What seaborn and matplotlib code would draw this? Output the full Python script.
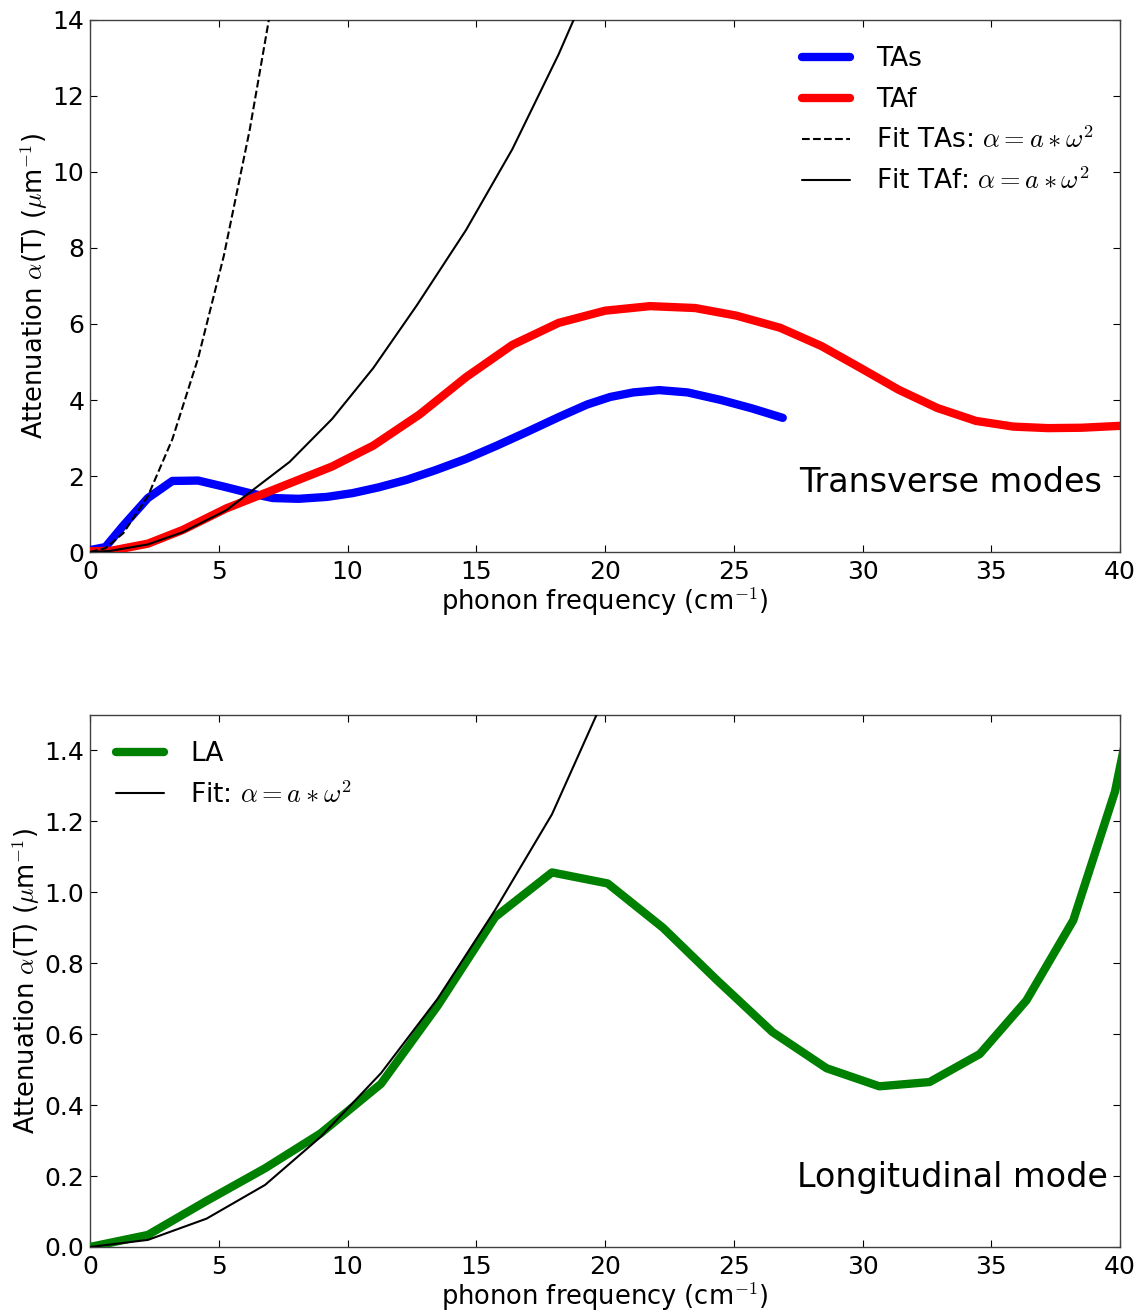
import matplotlib
matplotlib.use("Agg")
import matplotlib.pyplot as plt
import seaborn as sns

# ── Transverse modes ─────────────────────────────────────────────────────────
tas_freq = [0, 0.6, 1.3, 2.25, 3.2, 4.2, 5.2, 6.2, 7.1, 8.1, 9.2, 10.2, 11.2, 12.3,
            13.4, 14.6, 15.8, 17.0, 18.2, 19.3, 20.2, 21.1, 22.1, 23.2, 24.5, 25.7, 26.9]
tas_att = [0.05, 0.13, 0.7, 1.42, 1.87, 1.88, 1.72, 1.55, 1.42, 1.40, 1.45, 1.55, 1.7, 1.9,
           2.15, 2.45, 2.8, 3.17, 3.55, 3.88, 4.08, 4.2, 4.26, 4.2, 4.0, 3.78, 3.53]

taf_freq = [0, 0.8, 2.25, 3.6, 5.3, 7.1, 9.4, 11.0, 12.8, 14.6, 16.4, 18.2, 20.0, 21.75,
            23.5, 25.1, 26.8, 28.4, 29.9, 31.4, 32.9, 34.4, 35.85, 37.2, 38.5, 40.0]
taf_att = [0.02, 0.03, 0.22, 0.58, 1.15, 1.63, 2.25, 2.8, 3.62, 4.6, 5.45, 6.03, 6.35, 6.47,
           6.42, 6.22, 5.9, 5.42, 4.85, 4.27, 3.79, 3.45, 3.3, 3.26, 3.27, 3.32]

fit_tas_freq = [0, 0.6, 1.3, 2.25, 3.2, 4.2, 5.2, 6.2, 7.1]
fit_tas_att = [0, 0.1, 0.5, 1.47, 2.97, 5.1, 7.8, 11.1, 14.6]

fit_taf_freq = [0, 0.8, 2.25, 3.6, 5.3, 7.75, 9.4, 11.0, 12.7, 14.6, 16.4, 18.2, 20.0]
fit_taf_att = [0, 0.03, 0.2, 0.52, 1.1, 2.37, 3.5, 4.84, 6.5, 8.47, 10.6, 13.1, 15.9]

# ── Longitudinal mode ────────────────────────────────────────────────────────
la_freq = [0, 2.25, 4.53, 6.8, 8.95, 11.3, 13.5, 15.73, 17.94, 20.1, 22.25, 24.35, 26.5,
           28.6, 30.65, 32.6, 34.55, 36.36, 38.18, 39.8, 41.4]
la_att = [0.0, 0.034, 0.13, 0.222, 0.32, 0.46, 0.68, 0.93, 1.056, 1.025, 0.90, 0.752, 0.606,
          0.504, 0.453, 0.465, 0.544, 0.695, 0.921, 1.284, 1.85]

fit_la_freq = [0, 2.25, 4.53, 6.8, 8.95, 11.3, 13.5, 15.73, 17.94, 20.1, 22.25]
fit_la_att = [0, 0.02, 0.08, 0.175, 0.31, 0.49, 0.70, 0.95, 1.22, 1.57, 1.93]

sns.set_style("ticks")
plt.rcParams.update({
    "font.family": ["DejaVu Sans"],
    "mathtext.fontset": "cm",
    "text.color": "black",
    "axes.labelcolor": "black",
    "xtick.color": "black",
    "ytick.color": "black",
    "xtick.direction": "in",
    "ytick.direction": "in",
    "xtick.top": True,
    "ytick.right": True,
    "xtick.major.size": 5,
    "ytick.major.size": 5,
    "xtick.labelsize": 18,
    "ytick.labelsize": 18,
    "axes.labelsize": 18.5,
    "axes.edgecolor": "0.25",
    "axes.linewidth": 1.0,
})

fig = plt.figure(figsize=(11.43, 13.14), dpi=100)
ax1 = fig.add_axes([0.0787, 0.5799, 0.9013, 0.4049])
ax2 = fig.add_axes([0.0787, 0.0510, 0.9013, 0.4049])

ylabel = r"Attenuation $\alpha$(T) ($\mu$m$^{-1}$)"
xlabel = r"phonon frequency (cm$^{-1}$)"
fit_lbl = r"$\alpha = a*\omega^2$"

# Top panel — transverse modes
sns.lineplot(x=tas_freq, y=tas_att, ax=ax1, color="blue", lw=6, sort=False,
             label="TAs", zorder=3)
sns.lineplot(x=taf_freq, y=taf_att, ax=ax1, color="red", lw=6, sort=False,
             label="TAf", zorder=3)
sns.lineplot(x=fit_tas_freq, y=fit_tas_att, ax=ax1, color="black", lw=1.5, sort=False,
             linestyle="--", label="Fit TAs: " + fit_lbl, zorder=4)
sns.lineplot(x=fit_taf_freq, y=fit_taf_att, ax=ax1, color="black", lw=1.5, sort=False,
             label="Fit TAf: " + fit_lbl, zorder=4)
ax1.set_xlim(0, 40)
ax1.set_ylim(0, 14)
ax1.set_yticks(range(0, 15, 2))
ax1.set_xlabel(xlabel, labelpad=1)
ax1.set_ylabel(ylabel, labelpad=2)
ax1.legend(loc="upper right", frameon=False, fontsize=19, handlelength=1.8,
           handletextpad=1.0, labelspacing=0.55, borderaxespad=0.6)
ax1.text(0.982, 0.13, "Transverse modes", transform=ax1.transAxes,
         ha="right", va="center", fontsize=24)

# Bottom panel — longitudinal mode
sns.lineplot(x=la_freq, y=la_att, ax=ax2, color="green", lw=6, sort=False,
             label="LA", zorder=3)
sns.lineplot(x=fit_la_freq, y=fit_la_att, ax=ax2, color="black", lw=1.5, sort=False,
             label="Fit: " + fit_lbl, zorder=4)
ax2.set_xlim(0, 40)
ax2.set_ylim(0, 1.5)
ax2.set_yticks([0.0, 0.2, 0.4, 0.6, 0.8, 1.0, 1.2, 1.4])
ax2.set_xlabel(xlabel, labelpad=1)
ax2.set_ylabel(ylabel, labelpad=2)
ax2.legend(loc="upper left", frameon=False, fontsize=19, handlelength=1.8,
           handletextpad=1.0, labelspacing=0.55, borderaxespad=0.6)
ax2.text(0.988, 0.13, "Longitudinal mode", transform=ax2.transAxes,
         ha="right", va="center", fontsize=24)

for ax in (ax1, ax2):
    ax.tick_params(axis="x", pad=6)
    ax.tick_params(axis="y", pad=4)

fig.savefig("out.png", dpi=100)
